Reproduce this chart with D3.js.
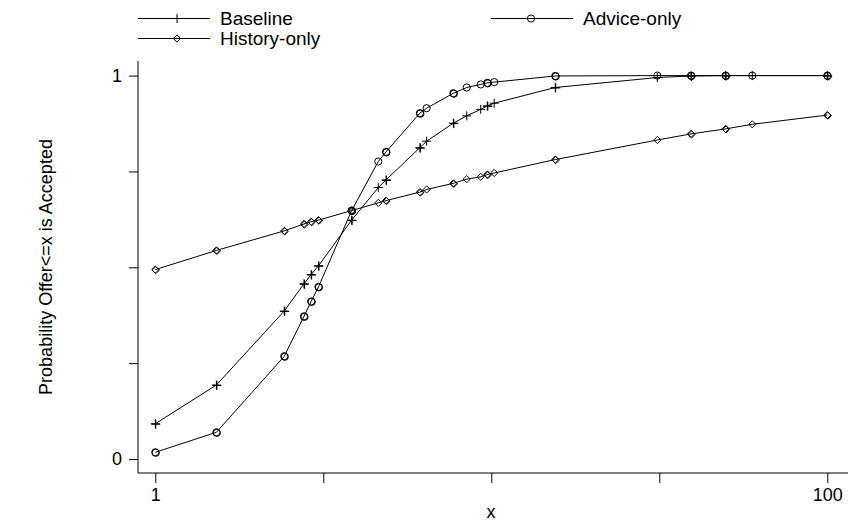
<!DOCTYPE html>
<html><head><meta charset="utf-8">
<script src="https://cdn.jsdelivr.net/npm/d3@7"></script>
<style>
html,body{margin:0;padding:0;background:#fff;}
text{font-family:"Liberation Sans",Arial,sans-serif;fill:#000;}
</style></head>
<body>
<svg id="chart" width="848" height="523"></svg>
<script>
// ---- data ----
const xValues = [1, 1.52, 2.42, 2.77, 2.91, 3.06, 3.84, 4.61, 4.86, 6.13, 6.42, 7.71, 8.45, 9.3, 9.73, 10.2, 15.5, 31.2, 39.3, 49.8, 59.8, 100];
const baseline = [0.092, 0.193, 0.386, 0.457, 0.481, 0.504, 0.623, 0.708, 0.728, 0.812, 0.829, 0.876, 0.895, 0.912, 0.921, 0.928, 0.969, 0.995, 0.999, 1.0, 1.0, 1.0];
const adviceOnly = [0.0175, 0.0696, 0.268, 0.372, 0.411, 0.449, 0.648, 0.776, 0.801, 0.902, 0.915, 0.954, 0.969, 0.977, 0.981, 0.983, 0.999, 1.0, 1.0, 1.0, 1.0, 1.0];
const historyOnly = [0.494, 0.544, 0.595, 0.613, 0.619, 0.623, 0.648, 0.668, 0.674, 0.696, 0.703, 0.719, 0.730, 0.736, 0.742, 0.746, 0.781, 0.832, 0.848, 0.861, 0.873, 0.897];
// observations repeated at each x (drawn twice in the original)
const repeated = [1,1,1,1,1,1,1,0,1,1,0,1,0,0,1,0,1,0,1,1,0,1];
const seriesNames = ["Baseline", "Advice-only", "History-only"];
const xTickValues = [1, 3.1623, 10, 31.623, 100];
const xTickLabels = ["1", "", "", "", "100"];
const yTickValues = [0, 0.25, 0.5, 0.75, 1];
const yTickLabels = ["0", "", "", "", "1"];

const series = [
  {name: seriesNames[0], values: baseline, shape: "plus"},
  {name: seriesNames[1], values: adviceOnly, shape: "circle"},
  {name: seriesNames[2], values: historyOnly, shape: "diamond"}
];

const svg = d3.select("#chart");
const x = d3.scaleLog().domain([1, 100]).range([155.3, 827.3]);
const y = d3.scaleLinear().domain([0, 1]).range([459, 75.6]);
const plotLeft = 138, plotBottom = 473, plotTop = 61, plotRight = 848;
const FS = 18;

function drawMarker(g, shape, cx, cy) {
  if (shape === "plus") {
    g.append("path").attr("d", `M${cx-4.5},${cy}H${cx+4.5}M${cx},${cy-4.5}V${cy+4.5}`)
      .attr("stroke", "#000").attr("stroke-width", 1).attr("fill", "none");
  } else if (shape === "circle") {
    g.append("circle").attr("cx", cx).attr("cy", cy).attr("r", 3.6)
      .attr("stroke", "#000").attr("stroke-width", 1).attr("fill", "none");
  } else {
    g.append("path").attr("d", `M${cx},${cy-3.6}L${cx+3.6},${cy}L${cx},${cy+3.6}L${cx-3.6},${cy}Z`)
      .attr("stroke", "#000").attr("stroke-width", 1).attr("fill", "none");
  }
}

// axes lines (L box)
svg.append("path").attr("d", `M${plotLeft},${plotTop}V${plotBottom}H${plotRight}`)
  .attr("stroke", "#000").attr("stroke-width", 1).attr("fill", "none");

// x axis ticks
const xAxis = d3.axisBottom(x).tickValues(xTickValues)
  .tickFormat((d, i) => xTickLabels[i]).tickSize(10).tickPadding(5);
const gx = svg.append("g").attr("transform", `translate(0,${plotBottom})`).call(xAxis);
gx.select(".domain").remove();
gx.selectAll("text").attr("font-size", FS).attr("font-family", "Liberation Sans, Arial, sans-serif");

// y axis ticks
const yAxis = d3.axisLeft(y).tickValues(yTickValues)
  .tickFormat((d, i) => yTickLabels[i]).tickSize(9).tickPadding(7);
const gy = svg.append("g").attr("transform", `translate(${plotLeft},0)`).call(yAxis);
gy.select(".domain").remove();
gy.selectAll("text").attr("font-size", FS).attr("font-family", "Liberation Sans, Arial, sans-serif");

// axis titles
svg.append("text").attr("x", 491).attr("y", 518).attr("text-anchor", "middle")
  .attr("font-size", FS).text("x");
svg.append("text").attr("transform", `translate(52,267) rotate(-90)`).attr("text-anchor", "middle")
  .attr("font-size", FS).text("Probability Offer<=x is Accepted");

// series
const line = d3.line().x(d => x(d[0])).y(d => y(d[1]));
series.forEach(s => {
  const pts = xValues.map((xv, i) => [xv, s.values[i]]);
  svg.append("path").datum(pts).attr("d", line)
    .attr("stroke", "#000").attr("stroke-width", 1).attr("fill", "none");
  const g = svg.append("g");
  pts.forEach((p, i) => {
    drawMarker(g, s.shape, x(p[0]), y(p[1]));
    if (repeated[i]) drawMarker(g, s.shape, x(p[0]) + 0.5, y(p[1]) + 0.5);
  });
});

// legend
const legendPos = [[138, 18.5, 72, 39, 82], [491, 18.5, 82, 40, 92], [138, 38.5, 72, 39, 82]];
series.forEach((s, i) => {
  const [lx, ly, len, mk, tx] = legendPos[i];
  const g = svg.append("g");
  g.append("line").attr("x1", lx).attr("x2", lx + len).attr("y1", ly).attr("y2", ly)
    .attr("stroke", "#000").attr("stroke-width", 1);
  drawMarker(g, s.shape, lx + mk, ly);
  g.append("text").attr("x", lx + tx).attr("y", ly + 6.7).attr("font-size", 19).text(s.name);
});
</script>
</body></html>
